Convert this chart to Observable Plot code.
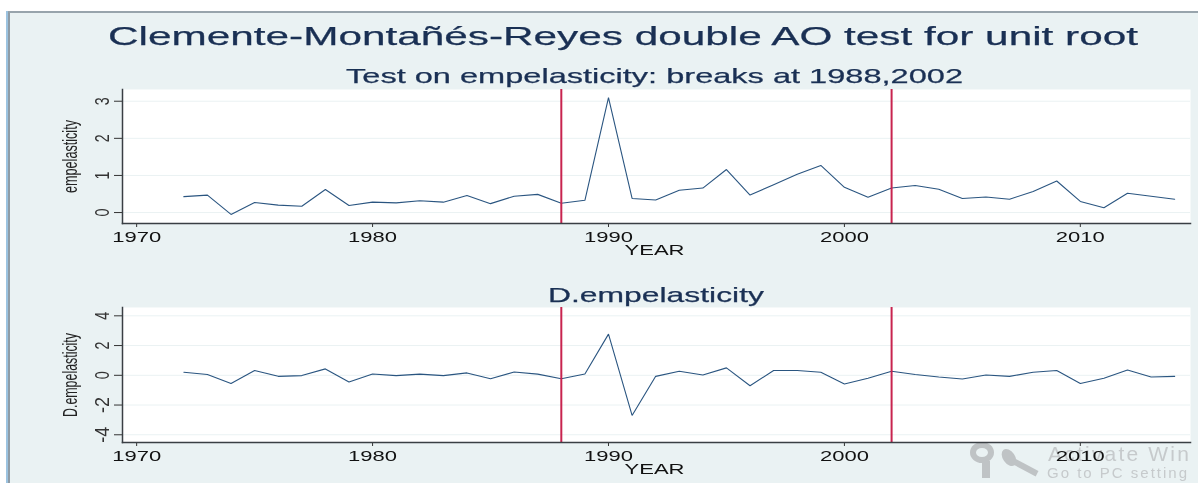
<!DOCTYPE html>
<html>
<head>
<meta charset="utf-8">
<script src="https://cdn.jsdelivr.net/npm/d3@7"></script>
<script src="https://cdn.jsdelivr.net/npm/@observablehq/plot@0.6"></script>
<style>
html,body{margin:0;padding:0;background:#fff;}
body{width:1198px;height:483px;overflow:hidden;position:relative;font-family:"Liberation Sans",Arial,sans-serif;}
#panel{position:absolute;left:6px;top:11px;right:0;bottom:0;background:#eaf2f3;box-sizing:border-box;
  border-left:4px solid #8f9ca6;border-top:2px solid #98a4ac;}
#edge{position:absolute;left:6px;top:11px;bottom:0;width:2px;background:#9cc3e0;}
#root{position:absolute;left:0;top:0;width:1198px;height:483px;filter:blur(0.4px);}
.t{position:absolute;white-space:nowrap;color:#1a3054;transform-origin:left center;line-height:1;-webkit-text-stroke:.25px #1a3054;}
.wm{position:absolute;white-space:nowrap;color:#c6cacc;line-height:1;}
.svgbox{position:absolute;left:0;}
.svgbox svg{background:transparent;display:block;overflow:visible;}
.key{position:absolute;background:#bfc3c5;}
</style>
</head>
<body>
<div id="panel"></div><div id="edge"></div>
<div id="root">
  <div class="wm" style="left:1048px;top:443px;font-size:21px;letter-spacing:2.2px;">Activate Win</div>
  <div class="wm" style="left:1047px;top:465px;font-size:15px;letter-spacing:2px;">Go to PC setting</div>
  <div class="key" style="left:970px;top:442px;width:24px;height:21px;border-radius:50%;box-sizing:border-box;background:transparent;border:6px solid #bfc3c5;"></div>
  <div class="key" style="left:982px;top:461px;width:8px;height:17px;"></div>
  <div class="key" style="left:1006px;top:463px;width:33px;height:6px;transform:rotate(28deg);"></div>
  <div class="key" style="left:1003px;top:448px;width:12px;height:19px;border-radius:50%;transform:rotate(-35deg);"></div>
  <div id="p1" class="svgbox" style="top:60px"></div>
  <div id="p2" class="svgbox" style="top:278px"></div>
  <div class="t" data-w="1030" style="left:108px;top:23px;font-size:26px;">Clemente-Montañés-Reyes double AO test for unit root</div>
  <div class="t" data-w="617" style="left:346px;top:65px;font-size:21px;">Test on empelasticity: breaks at 1988,2002</div>
  <div class="t" data-w="216" style="left:548px;top:284px;font-size:21px;">D.empelasticity</div>
</div>
<script>
const years = [1972,1973,1974,1975,1976,1977,1978,1979,1980,1981,1982,1983,1984,1985,1986,1987,1988,1989,1990,1991,1992,1993,1994,1995,1996,1997,1998,1999,2000,2001,2002,2003,2004,2005,2006,2007,2008,2009,2010,2011,2012,2013,2014];
const empelasticity = [.43,.47,-.05,.27,.2,.17,.62,.19,.28,.26,.32,.28,.46,.24,.44,.49,.25,.33,3.1,.38,.34,.6,.66,1.16,.47,.75,1.03,1.27,.68,.41,.66,.73,.63,.38,.42,.36,.57,.85,.3,.13,.52,.44,.36];
const dEmpelasticity = [.2,.05,-.55,.32,-.07,-.02,.43,-.45,.09,-.02,.08,-.02,.16,-.23,.22,.08,-.23,.09,2.77,-2.7,-.07,.27,.02,.5,-.7,.32,.32,.2,-.59,-.2,.27,.05,-.11,-.25,.02,-.07,.2,.32,-.55,-.2,.36,-.11,-.07];
const breaks = [1988,2002];
const xTicks = [1970,1980,1990,2000,2010];
const xDomain = [1969.4,2014.67];

function panel(values, opts){
  const rows = years.map((year,i)=>({year, value:values[i]}));
  const svg = Plot.plot({
    width:1198, height:opts.height,
    marginLeft:122, marginRight:8, marginTop:29, marginBottom:41,
    style:{background:"transparent",fontFamily:'"Liberation Sans",Arial,sans-serif',color:"#222"},
    x:{domain:xDomain},
    y:{domain:opts.yDomain},
    marks:[
      Plot.frame({fill:"#fff",stroke:null}),
      Plot.gridY(opts.yTicks,{stroke:"#eaf2f3",strokeOpacity:1,strokeWidth:1}),
      Plot.axisX({ticks:xTicks,tickFormat:d=>String(d),tickSize:4,tickPadding:4,fontSize:15,label:"YEAR",labelAnchor:"center",labelArrow:"none",labelOffset:31,stroke:"#333"}),
      Plot.axisY({ticks:opts.yTicks,tickFormat:d=>String(d).replace("\u2212","-"),tickSize:8,tickPadding:6,tickRotate:-90,textAnchor:"middle",fontSize:20,label:opts.label,labelAnchor:"center",labelArrow:"none",labelOffset:60,stroke:"#333"}),
      Plot.line(rows,{x:"year",y:"value",stroke:"#2a5580",strokeWidth:1.1,strokeLinejoin:"miter"}),
      Plot.ruleX(breaks,{stroke:"#c8244f",strokeWidth:2}),
      Plot.frame({anchor:"left",stroke:"#3a3f44",strokeWidth:1.5}),
      Plot.frame({anchor:"bottom",stroke:"#3a3f44",strokeWidth:1.5})
    ]
  });
  document.getElementById(opts.id).appendChild(svg);
  svg.querySelectorAll('[aria-label="x-axis tick label"] text').forEach(t=>{
    t.setAttribute("textLength",49);t.setAttribute("lengthAdjust","spacingAndGlyphs");t.setAttribute("fill","#111");});
  svg.querySelectorAll('[aria-label="y-axis tick label"] text').forEach(t=>{
    t.setAttribute("textLength",t.textContent.length>1?16:8);t.setAttribute("lengthAdjust","spacingAndGlyphs");t.setAttribute("fill","#333");});
  svg.querySelectorAll('[aria-label="x-axis label"] text').forEach(t=>{
    t.setAttribute("textLength",60);t.setAttribute("lengthAdjust","spacingAndGlyphs");t.setAttribute("font-size",15);t.setAttribute("fill","#111");t.setAttribute("dx",-2);});
  svg.querySelectorAll('[aria-label="y-axis label"] text').forEach(t=>{
    t.setAttribute("textLength",opts.labelLen);t.setAttribute("lengthAdjust","spacingAndGlyphs");t.setAttribute("font-size",20);t.setAttribute("fill","#222");});
}
panel(empelasticity,{id:"p1",height:204,yDomain:[-.295,3.316],yTicks:[0,1,2,3],label:"empelasticity",labelLen:73});
panel(dEmpelasticity,{id:"p2",height:205,yDomain:[-4.52,4.56],yTicks:[-4,-2,0,2,4],label:"D.empelasticity",labelLen:84});
document.querySelectorAll(".t").forEach(el=>{
  const w = el.getBoundingClientRect().width;
  el.style.transform = "scaleX("+(+el.dataset.w/w)+")";
});
</script>
</body>
</html>
